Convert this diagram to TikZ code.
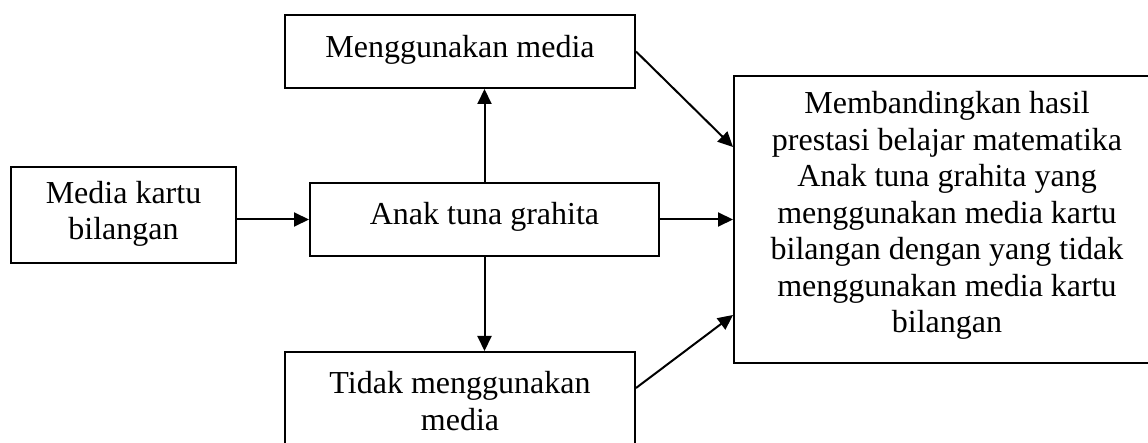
\documentclass[tikz,border=0pt]{standalone}
\usepackage{fontspec}
\setmainfont{Liberation Serif}
\usetikzlibrary{arrows.meta}
\begin{document}
\begin{tikzpicture}[x=1pt,y=-1pt,
  box/.style={draw=black, line width=2pt, inner sep=0pt},
  txt/.style={align=center, inner sep=0pt, font=\fontsize{32}{36.5}\selectfont},
  arr/.style={line width=2pt, -{Triangle[length=15pt,width=14pt]}}]
\useasboundingbox[fill=white] (0,0) rectangle (1148,443);
% boxes
\node[box, minimum width=225pt, minimum height=96pt] (media) at (123.5,215) {};
\node[txt] (mediatxt) at (123.5,214) {Media kartu\\bilangan};
\node[box, minimum width=349pt, minimum height=73pt] (anak) at (484.5,219.5) {};
\node[txt] (anaktxt) at (484.5,217) {Anak tuna grahita};
\node[box, minimum width=350pt, minimum height=73pt] (meng) at (460,51.5) {};
\node[txt] (mengtxt) at (460,50) {Menggunakan media};
\node[box, minimum width=350pt, minimum height=98pt] (tidak) at (460,401) {};
\node[txt] (tidaktxt) at (460,401) {Tidak menggunakan\\media};
\node[box, minimum width=426pt, minimum height=287pt] (big) at (947,219.5) {};
\node[txt] (bigtxt) at (947,215.5) {Membandingkan hasil\\prestasi belajar matematika\\Anak tuna grahita yang\\menggunakan media kartu\\bilangan dengan yang tidak\\menggunakan media kartu\\bilangan};
% connectors
\draw[arr] (media.east |- anak.west) -- (anak.west);
\draw[arr] (anak.north) -- (meng.south -| anak.north);
\draw[arr] (anak.south) -- (tidak.north -| anak.south);
\draw[arr] (anak.east) -- (big.west);
\draw[arr] (meng.east) -- ([yshift=72.5pt]big.west);
\draw[arr] ([yshift=13pt]tidak.east) -- ([yshift=-95.5pt]big.west);
\end{tikzpicture}
\end{document}
